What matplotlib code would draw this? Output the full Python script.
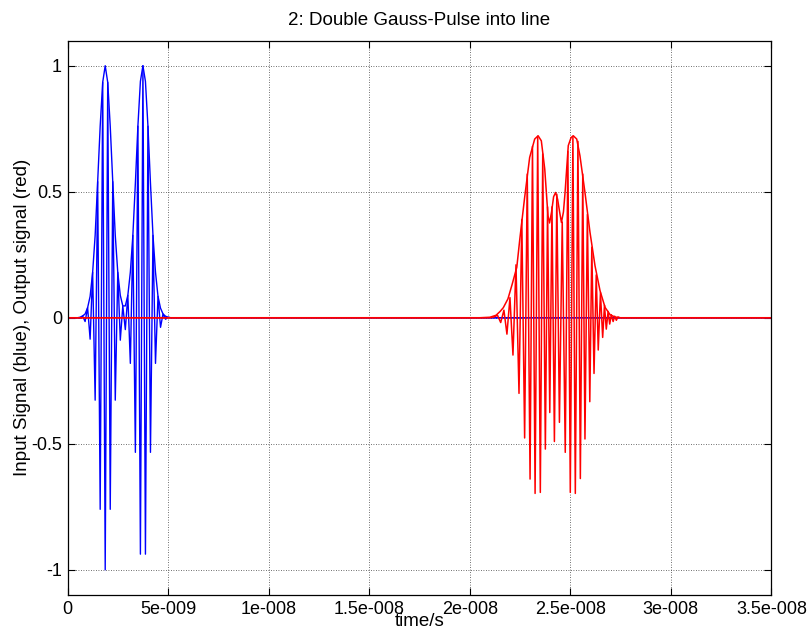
import matplotlib
matplotlib.use("Agg")
from matplotlib import pyplot as plt
import numpy as np

plt.rcParams['font.family'] = ['Liberation Sans', 'DejaVu Sans']

# input signal (blue), times in ns
in_t = [0.0, 0.5, 0.625, 0.75, 0.875, 1.0, 1.125, 1.25, 1.375, 1.5, 1.625,
        1.75, 1.875, 2.0, 2.125, 2.25, 2.375, 2.5, 2.625, 2.75, 2.875,
        3.0, 3.125, 3.25, 3.375, 3.5, 3.625, 3.75, 3.875, 4.0, 4.125,
        4.25, 4.375, 4.5, 4.625, 4.75, 4.875, 5.0, 5.125, 35.0]
in_sig = [0.0, 0.0, -0.002, 0.007, -0.015, 0.04, -0.085, 0.18, -0.327, 0.54, -0.76,
          0.934, -1.0, 0.934, -0.76, 0.54, -0.327, 0.18, -0.089, 0.047, -0.047,
          0.089, -0.181, 0.327, -0.534, 0.76, -0.938, 1.0, -0.938, 0.76, -0.534,
          0.327, -0.181, 0.085, -0.038, 0.015, -0.006, 0.002, 0.0, 0.0]
in_env = [0.0, 0.0, 0.002, 0.007, 0.015, 0.04, 0.085, 0.18, 0.327, 0.54, 0.76,
          0.934, 1.0, 0.934, 0.76, 0.54, 0.327, 0.18, 0.089, 0.047, 0.047,
          0.089, 0.181, 0.327, 0.534, 0.76, 0.938, 1.0, 0.938, 0.76, 0.534,
          0.327, 0.181, 0.085, 0.038, 0.015, 0.006, 0.002, 0.0, 0.0]

# output signal (red)
out_t = [0.0, 21.01, 21.21, 21.38, 21.54, 21.70, 21.85, 22.00, 22.15, 22.30, 22.45,
         22.59, 22.73, 22.86, 23.00, 23.12, 23.25, 23.38, 23.51, 23.63, 23.76,
         23.87, 23.98, 24.09, 24.21, 24.33, 24.46, 24.60, 24.75, 24.88, 25.00,
         25.13, 25.25, 25.38, 25.50, 25.62, 25.73, 25.85, 25.97, 26.07, 26.18,
         26.29, 26.39, 26.50, 26.61, 26.70, 26.79, 26.88, 26.96, 27.04, 27.13,
         27.21, 27.29, 27.37, 27.47, 35.0]
out_sig = [0.0, 0.0, 0.003, 0.01, -0.019, 0.03, -0.065, 0.08, -0.148, 0.21, -0.30,
           0.39, -0.477, 0.57, -0.64, 0.68, -0.697, 0.72, -0.693, 0.65, -0.521,
           0.44, -0.376, 0.44, -0.491, 0.49, -0.415, 0.38, -0.534, 0.66, -0.693,
           0.72, -0.697, 0.70, -0.638, 0.57, -0.481, 0.41, -0.333, 0.28, -0.221,
           0.17, -0.128, 0.10, -0.078, 0.05, -0.045, 0.025, -0.025, 0.012, -0.015,
           0.006, -0.01, 0.003, 0.0, 0.0]
out_env_t = [0.0, 20.51, 21.01, 21.31, 21.51, 21.67, 21.90, 22.10, 22.34, 22.49,
             22.73, 22.98, 23.23, 23.40, 23.56, 23.73, 23.89, 23.97, 24.07, 24.17,
             24.27, 24.37, 24.47, 24.56, 24.66, 24.74, 24.90, 25.04, 25.15, 25.32,
             25.48, 25.73, 25.98, 26.23, 26.48, 26.73, 26.98, 27.22, 27.47, 35.0]
out_env = [0.0, 0.0, 0.002, 0.01, 0.025, 0.04, 0.075, 0.13, 0.2, 0.312,
           0.477, 0.636, 0.709, 0.722, 0.702, 0.59, 0.405, 0.376, 0.42, 0.48,
           0.497, 0.47, 0.42, 0.378, 0.42, 0.497, 0.683, 0.715, 0.722, 0.709,
           0.643, 0.497, 0.339, 0.206, 0.107, 0.041, 0.012, 0.003, 0.0, 0.0]

xticks = [0, 5e-9, 1e-8, 1.5e-8, 2e-8, 2.5e-8, 3e-8, 3.5e-8]
xlabels = ['0', '5e-009', '1e-008', '1.5e-008', '2e-008', '2.5e-008', '3e-008', '3.5e-008']
yticks = [-1, -0.5, 0, 0.5, 1]
ylabels = ['-1', '-0.5', '0', '0.5', '1']

fig = plt.figure(figsize=(8.11, 6.32), dpi=100)
ax = fig.add_axes([67.5 / 811, 1 - 595 / 632, (771.4 - 67.5) / 811, (595 - 40.5) / 632])

ns = 1e-9
ax.plot(np.array(in_t) * ns, in_sig, color='blue', lw=1.0)
ax.plot(np.array(in_t) * ns, in_env, color='blue', lw=1.0)
ax.plot(np.array(out_t) * ns, out_sig, color='red', lw=1.1)
ax.plot(np.array(out_env_t) * ns, out_env, color='red', lw=1.1)

ax.set_xlim(0, 3.5e-8)
ax.set_ylim(-1.1, 1.1)
ax.set_xticks(xticks)
ax.set_xticklabels(xlabels)
ax.set_yticks(yticks)
ax.set_yticklabels(ylabels)
ax.tick_params(direction='in', top=True, right=True, length=5, width=0.8,
               labelsize=13, pad=4)
ax.grid(True, linestyle=(0, (1, 2)), color='0.25', linewidth=0.6)
for s in ax.spines.values():
    s.set_linewidth(0.9)

ax.set_title('2: Double Gauss-Pulse into line', fontsize=13.5, pad=11)
ax.set_xlabel('time/s', fontsize=13.5, labelpad=-3)
ax.set_ylabel('Input Signal (blue), Output signal (red)', fontsize=13.5, labelpad=0)

fig.savefig('out.png', dpi=100)
